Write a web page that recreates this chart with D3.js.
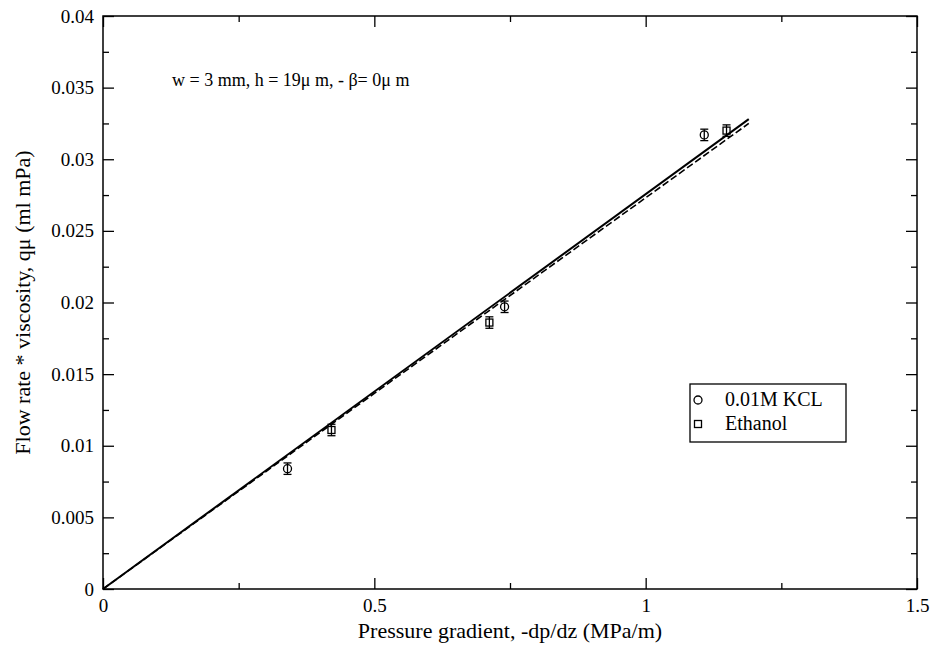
<!DOCTYPE html>
<html>
<head>
<meta charset="utf-8">
<script src="https://cdn.jsdelivr.net/npm/d3@7"></script>
<style>
  html, body { margin: 0; padding: 0; background: #fff; }
</style>
</head>
<body>
<svg id="chart" width="935" height="647"></svg>
<script>
// Measured flow rate * viscosity against pressure gradient
const kclX   = [0.340, 0.740, 1.108];
const kclY   = [0.0084, 0.0197, 0.0317];
const kclErr = [0.0004, 0.0004, 0.0004];

const ethX   = [0.421, 0.712, 1.149];
const ethY   = [0.0111, 0.0186, 0.0320];
const ethErr = [0.0004, 0.0004, 0.0004];

// Fitted lines (start and end points)
const fitSolidX  = [0, 1.19];
const fitSolidY  = [0, 0.0328];
const fitDashedX = [0, 1.19];
const fitDashedY = [0, 0.0325];

const xTickLabels = [0, 0.5, 1, 1.5];
const yTickLabels = [0, 0.005, 0.01, 0.015, 0.02, 0.025, 0.03, 0.035, 0.04];
const xMinor = [0.25, 0.75, 1.25];
const yMinor = [0.0025, 0.0075, 0.0125, 0.0175, 0.0225, 0.0275, 0.0325, 0.0375];

const legendNames = ["0.01M KCL", "Ethanol"];
const noteText = "w = 3 mm, h = 19\u03bc m, - \u03b2= 0\u03bc m";
const xTitle = "Pressure gradient, -dp/dz (MPa/m)";
const yTitle = "Flow rate  * viscosity, q\u03bc (ml mPa)";

const FONT = "Liberation Serif";

const svg = d3.select("#chart");
const m = { left: 103, top: 16, right: 18, bottom: 58 };
const W = 935 - m.left - m.right;
const H = 647 - m.top - m.bottom;

const x = d3.scaleLinear().domain([0, 1.5]).range([0, W]);
const y = d3.scaleLinear().domain([0, 0.04]).range([H, 0]);

const g = svg.append("g").attr("transform", `translate(${m.left},${m.top})`);

// frame
g.append("rect").attr("x", 0).attr("y", 0).attr("width", W).attr("height", H)
  .attr("fill", "none").attr("stroke", "#000").attr("stroke-width", 1.5);

const fmt = d => (d === 0 ? "0" : String(d));
const major = 11, minor = 6;

// axes with inward ticks (mirrored on top/right)
function styleAxis(sel) {
  sel.attr("font-family", FONT).attr("font-size", 19);
  sel.select(".domain").remove();
  sel.selectAll("line").attr("stroke", "#000").attr("stroke-width", 1.3);
  sel.selectAll("text").attr("fill", "#000");
}

g.append("g").attr("transform", `translate(0,${H})`)
  .call(d3.axisBottom(x).tickValues(xTickLabels).tickFormat(fmt).tickSizeInner(-major).tickSizeOuter(0).tickPadding(10))
  .call(styleAxis);
g.append("g").attr("transform", `translate(0,${H})`)
  .call(d3.axisBottom(x).tickValues(xMinor).tickFormat("").tickSizeInner(-minor).tickSizeOuter(0)).call(styleAxis);
g.append("g").call(d3.axisTop(x).tickValues(xTickLabels).tickFormat("").tickSizeInner(-major).tickSizeOuter(0)).call(styleAxis);
g.append("g").call(d3.axisTop(x).tickValues(xMinor).tickFormat("").tickSizeInner(-minor).tickSizeOuter(0)).call(styleAxis);

g.append("g")
  .call(d3.axisLeft(y).tickValues(yTickLabels).tickFormat(fmt).tickSizeInner(-major).tickSizeOuter(0).tickPadding(9))
  .call(styleAxis);
g.append("g").call(d3.axisLeft(y).tickValues(yMinor).tickFormat("").tickSizeInner(-minor).tickSizeOuter(0)).call(styleAxis);
g.append("g").attr("transform", `translate(${W},0)`)
  .call(d3.axisRight(y).tickValues(yTickLabels).tickFormat("").tickSizeInner(-major).tickSizeOuter(0)).call(styleAxis);
g.append("g").attr("transform", `translate(${W},0)`)
  .call(d3.axisRight(y).tickValues(yMinor).tickFormat("").tickSizeInner(-minor).tickSizeOuter(0)).call(styleAxis);

// fitted lines
const line = d3.line().x(d => x(d[0])).y(d => y(d[1]));
g.append("path").datum(d3.zip(fitDashedX, fitDashedY)).attr("d", line)
  .attr("fill", "none").attr("stroke", "#000").attr("stroke-width", 1.6).attr("stroke-dasharray", "7,3");
g.append("path").datum(d3.zip(fitSolidX, fitSolidY)).attr("d", line)
  .attr("fill", "none").attr("stroke", "#000").attr("stroke-width", 2);

// error bars
function errBars(xs, ys, es) {
  const data = d3.zip(xs, ys, es);
  const eb = g.append("g").attr("stroke", "#000").attr("stroke-width", 1.3);
  eb.selectAll(".v").data(data).join("line")
    .attr("x1", d => x(d[0])).attr("x2", d => x(d[0]))
    .attr("y1", d => y(d[1] - d[2])).attr("y2", d => y(d[1] + d[2]));
  eb.selectAll(".t").data(data).join("line")
    .attr("x1", d => x(d[0]) - 4).attr("x2", d => x(d[0]) + 4)
    .attr("y1", d => y(d[1] + d[2])).attr("y2", d => y(d[1] + d[2]));
  eb.selectAll(".b").data(data).join("line")
    .attr("x1", d => x(d[0]) - 4).attr("x2", d => x(d[0]) + 4)
    .attr("y1", d => y(d[1] - d[2])).attr("y2", d => y(d[1] - d[2]));
}
errBars(kclX, kclY, kclErr);
errBars(ethX, ethY, ethErr);

// markers
g.append("g").selectAll("circle").data(d3.zip(kclX, kclY)).join("circle")
  .attr("cx", d => x(d[0])).attr("cy", d => y(d[1])).attr("r", 4)
  .attr("fill", "none").attr("stroke", "#000").attr("stroke-width", 1.3);
g.append("g").selectAll("rect").data(d3.zip(ethX, ethY)).join("rect")
  .attr("x", d => x(d[0]) - 3.5).attr("y", d => y(d[1]) - 3.5)
  .attr("width", 7).attr("height", 7)
  .attr("fill", "none").attr("stroke", "#000").attr("stroke-width", 1.3);

// annotation
svg.append("text").attr("x", 172).attr("y", 86).attr("font-family", FONT).attr("font-size", 18).text(noteText);

// legend
const lg = svg.append("g");
lg.append("rect").attr("x", 690).attr("y", 384).attr("width", 156).attr("height", 58)
  .attr("fill", "#fff").attr("stroke", "#000").attr("stroke-width", 1.3);
lg.append("circle").attr("cx", 698).attr("cy", 400).attr("r", 4)
  .attr("fill", "none").attr("stroke", "#000").attr("stroke-width", 1.3);
lg.append("rect").attr("x", 694.5).attr("y", 420.5).attr("width", 7).attr("height", 7)
  .attr("fill", "none").attr("stroke", "#000").attr("stroke-width", 1.3);
lg.append("text").attr("x", 725).attr("y", 406).attr("font-family", FONT).attr("font-size", 20).text(legendNames[0]);
lg.append("text").attr("x", 725).attr("y", 430).attr("font-family", FONT).attr("font-size", 20).text(legendNames[1]);

// axis titles
svg.append("text").attr("x", m.left + W / 2).attr("y", 638).attr("text-anchor", "middle")
  .attr("font-family", FONT).attr("font-size", 22).text(xTitle);
svg.append("text").attr("transform", `translate(30,${m.top + H / 2}) rotate(-90)`)
  .attr("text-anchor", "middle").attr("font-family", FONT).attr("font-size", 22).text(yTitle);
</script>
</body>
</html>
